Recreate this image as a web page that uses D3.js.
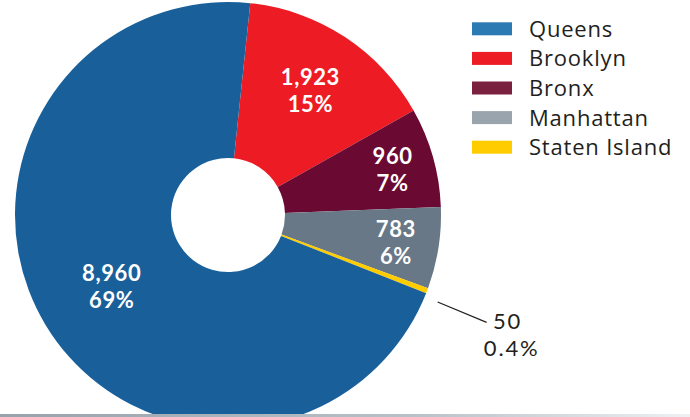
<!DOCTYPE html>
<html>
<head>
<meta charset="utf-8">
<script src="https://cdn.jsdelivr.net/npm/d3@7"></script>
<style>
  body { margin: 0; background: #fff; }
  svg { display: block; }
  .lbl { font-family: Lato, sans-serif; font-weight: 700; fill: #fff; font-size: 22px; letter-spacing: 0.6px; }
  .out { font-family: Lato, sans-serif; fill: #231f20; font-size: 22px; letter-spacing: 1.8px; }
  .leg { font-family: "Open Sans", sans-serif; fill: #231f20; font-size: 22px; letter-spacing: 0.8px; }
</style>
</head>
<body>
<div id="canvas"></div>
<script>
// data
var boroughs = ['Queens', 'Brooklyn', 'Bronx', 'Manhattan', 'Staten Island'];
var counts   = [8960, 1923, 960, 783, 50];
var shares   = ['69%', '15%', '7%', '6%', '0.4%'];
// draw order round the ring (clockwise from just right of 12 o'clock)
var pieOrder = ['Brooklyn', 'Bronx', 'Manhattan', 'Staten Island', 'Queens'];

// colours: slice fill vs. legend swatch (slightly lighter in the original)
var sliceColor  = ['#19609b', '#ed1c24', '#6a0a33', '#687886', '#ffcc00'];
var legendColor = ['#2b7ab4', '#ed1c24', '#7a2140', '#99a4ad', '#ffcc00'];

var W = 690, H = 417;
var cx = 228, cy = 215, rOut = 213, rIn = 57;

var svg = d3.select('#canvas').append('svg')
    .attr('width', W).attr('height', H);

var rows = boroughs.map(function(b, i){
  return {name: b, count: counts[i], share: shares[i], fill: sliceColor[i], swatch: legendColor[i]};
});
var byName = d3.index(rows, function(d){ return d.name; });
var ordered = pieOrder.map(function(n){ return byName.get(n); });

var start = 6 * Math.PI / 180;
var pie = d3.pie().sort(null).value(function(d){ return d.count; })
    .startAngle(start).endAngle(start + 2 * Math.PI);
var arcs = pie(ordered);

var arc = d3.arc().innerRadius(rIn).outerRadius(rOut);

var g = svg.append('g').attr('transform', 'translate(' + cx + ',' + cy + ')');

g.selectAll('.slice')
  .data(arcs)
  .enter().append('path').attr('class', 'slice')
  .attr('d', arc)
  .attr('fill', function(d){ return d.data.fill; });

// inside labels, radius tuned per slice like the hand-placed original
var labelR = {'Queens': 136, 'Brooklyn': 150, 'Bronx': 171, 'Manhattan': 170};
var fmt = d3.format(',');

var inside = g.selectAll('.lbl')
  .data(arcs.filter(function(d){ return labelR[d.data.name]; }))
  .enter().append('text').attr('class', 'lbl')
  .attr('text-anchor', 'middle')
  .attr('transform', function(d){
    var r = labelR[d.data.name];
    var c = d3.arc().innerRadius(r).outerRadius(r).centroid(d);
    return 'translate(' + c[0] + ',' + c[1] + ')';
  });
inside.append('tspan').attr('x', 0).attr('y', -5).text(function(d){ return fmt(d.data.count); });
inside.append('tspan').attr('x', 0).attr('y', 22).text(function(d){ return d.data.share; });

// Staten Island sits outside with a leader line
var small = arcs.find(function(d){ return d.data.name === 'Staten Island'; });
var mid = (small.startAngle + small.endAngle) / 2 + 0.03;
var p0 = [Math.sin(mid) * (rOut + 14), -Math.cos(mid) * (rOut + 14)];
var p1 = [Math.sin(mid) * (rOut + 67), -Math.cos(mid) * (rOut + 67)];
g.append('line')
  .attr('x1', p0[0]).attr('y1', p0[1])
  .attr('x2', p1[0]).attr('y2', p1[1])
  .attr('stroke', '#231f20').attr('stroke-width', 1.2);
var outT = g.append('text').attr('class', 'out').attr('text-anchor', 'middle')
  .attr('transform', 'translate(' + (p1[0] + 23) + ',' + (p1[1] + 7) + ')');
outT.append('tspan').attr('x', -2).attr('y', 0).text(fmt(small.data.count));
outT.append('tspan').attr('x', 2).attr('y', 26.5).text(small.data.share);

// legend
var y = d3.scaleBand().domain(boroughs).range([14, 162]);
var leg = svg.append('g').attr('transform', 'translate(472,0)');
var item = leg.selectAll('.item').data(rows).enter().append('g')
  .attr('transform', function(d){ return 'translate(0,' + (y(d.name) + y.bandwidth() / 2) + ')'; });
item.append('rect').attr('x', 0).attr('y', -6.5).attr('width', 40).attr('height', 13)
  .attr('fill', function(d){ return d.swatch; });
item.append('text').attr('class', 'leg').attr('x', 57).attr('y', 8)
  .text(function(d){ return d.name; });

// faint rule along the bottom edge
var grad = svg.append('defs').append('linearGradient').attr('id', 'rule');
grad.append('stop').attr('offset', '0%').attr('stop-color', '#98a2ab');
grad.append('stop').attr('offset', '60%').attr('stop-color', '#b9c1c8');
grad.append('stop').attr('offset', '100%').attr('stop-color', '#eef0f2');
svg.append('rect').attr('x', 0).attr('y', 414).attr('width', W).attr('height', 3)
  .attr('fill', 'url(#rule)');
</script>
</body>
</html>
